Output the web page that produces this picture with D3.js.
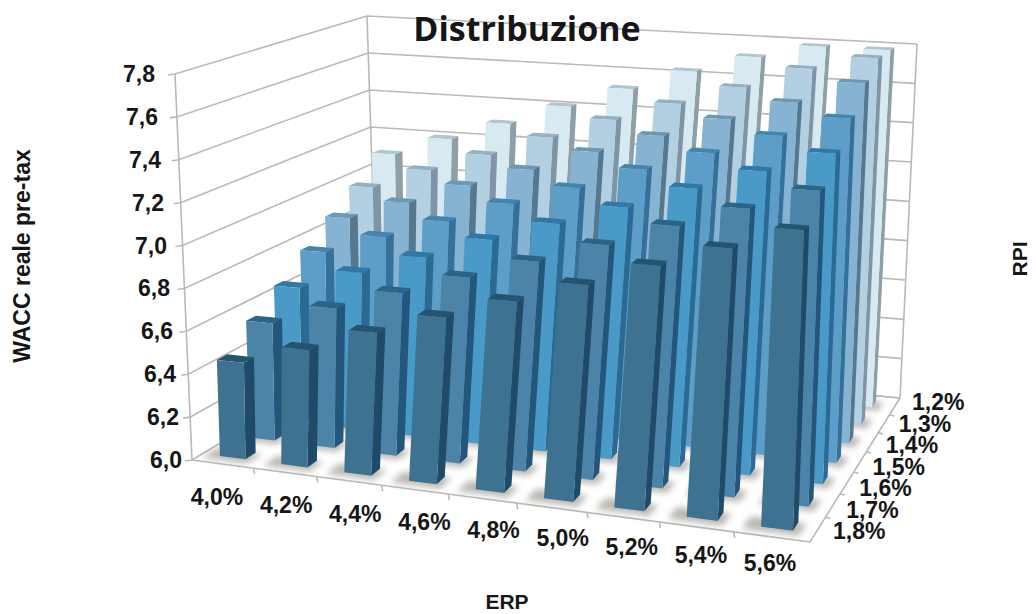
<!DOCTYPE html>
<html><head><meta charset="utf-8">
<script src="https://cdn.jsdelivr.net/npm/d3@7/dist/d3.min.js"></script>
<style>html,body{margin:0;background:#fff}svg{display:block}text{font-family:"Liberation Sans",Arial,sans-serif;font-weight:700;fill:#161616}</style>
</head><body><svg id="c" width="1036" height="614"></svg>
<script>
// ERP categories run along the front edge, RPI series run from front to back
const erp=["4,0%","4,2%","4,4%","4,6%","4,8%","5,0%","5,2%","5,4%","5,6%"];
const rpi=["1,8%","1,7%","1,6%","1,5%","1,4%","1,3%","1,2%"];
const ticks=[6,6.2,6.4,6.6,6.8,7,7.2,7.4,7.6,7.8];

// WACC reale pre-tax for each RPI level, one value per ERP category
const rpi18=[6.45,6.54,6.65,6.75,6.85,6.95,7.06,7.16,7.26];
const rpi17=[6.56,6.66,6.76,6.86,6.96,7.06,7.17,7.27,7.37];
const rpi16=[6.66,6.76,6.86,6.97,7.07,7.17,7.28,7.38,7.48];
const rpi15=[6.77,6.87,6.97,7.08,7.18,7.29,7.39,7.49,7.59];
const rpi14=[6.88,6.98,7.09,7.19,7.30,7.40,7.50,7.60,7.71];
const rpi13=[6.98,7.09,7.19,7.30,7.41,7.51,7.61,7.72,7.79];
const rpi12=[7.10,7.20,7.30,7.41,7.52,7.63,7.72,7.79,7.79];
const values=[rpi18,rpi17,rpi16,rpi15,rpi14,rpi13,rpi12];

const front=["#3d7290","#4c84a9","#4a9ac7","#5c9ec7","#86b3d2","#b3cfe2","#d7e9f1"];
const side=["#1f4a68","#24557b","#2a6a95","#34709a","#56788f","#7f95a5","#8f9fa8"];
const cap=["#245470","#2c6488","#3078a5","#4484ad","#6b98b5","#94b0c2","#b0c6d1"];

// Maps the unit square onto a quad given as near-left, near-right, far-right, far-left
function quad([[x0,y0],[x1,y1],[x2,y2],[x3,y3]]){
 const sx=x0-x1+x2-x3,sy=y0-y1+y2-y3,dx1=x1-x2,dx2=x3-x2,dy1=y1-y2,dy2=y3-y2,den=dx1*dy2-dx2*dy1;
 const g=(sx*dy2-dx2*sy)/den,h=(dx1*sy-sx*dy1)/den;
 const a=x1-x0+g*x1,b=x3-x0+h*x3,d=y1-y0+g*y1,e=y3-y0+h*y3;
 return(u,v)=>{const W=g*u+h*v+1;return[(a*u+b*v+x0)/W,(d*u+e*v+y0)/W];};
}
// Perspective box of the chart: floor and ceiling planes, heights blend between them.
// Spacing along the ERP direction tightens toward the left as rows recede.
const floorQ=quad([[192,460],[810,542],[900,398],[378,349]]);
const ceilQ=quad([[175,74],[823,106],[917,44],[367,16]]);
const proj=(u,v,w)=>{const s=u+(.05-.12*v)*u*(1-u),p=floorQ(s,v),q=ceilQ(s,v);return[p[0]+w*(q[0]-p[0]),p[1]+w*(q[1]-p[1])];};

const U=d3.scaleBand().domain(erp).range([0,1]).paddingInner(.58).paddingOuter(.29);
const V=d3.scaleBand().domain(rpi).range([0,1]).paddingInner(.66).paddingOuter(.33);
const Z=d3.scaleLinear().domain([6,7.8]).range([0,1]);
// Tick labels sit at even steps along the two floor edges
const labelX=d3.scalePoint().domain(erp).range([217,770]);
const labelXY=d3.scalePoint().domain(erp).range([497,563]);
const labelR=d3.scalePoint().domain(rpi).range([833,912]);
const labelRY=d3.scalePoint().domain(rpi).range([531,402]);

const svg=d3.select("#c");
const line=d3.line();
const poly=pts=>line(pts)+"Z";
svg.append("defs").append("filter").attr("id","soft").attr("x","-40%").attr("y","-40%").attr("width","180%").attr("height","180%").append("feGaussianBlur").attr("stdDeviation",3.4);

// Walls, floor edges and tick marks
const grid=svg.append("g").attr("fill","none").attr("stroke","#b9b9b9").attr("stroke-width",1.6);
ticks.forEach(t=>{const w=Z(t),p=proj(0,0,w);
 grid.append("path").attr("d",line([[p[0]-7,p[1]+1],p,proj(0,1,w),proj(1,1,w)]));});
[[0,0],[0,1],[1,1]].forEach(([u,v])=>grid.append("path").attr("d",line([proj(u,v,0),proj(u,v,1)])));
grid.append("path").attr("d",line([proj(0,1,0),proj(1,1,0)]));
grid.append("path").attr("d",line([proj(0,0,0),proj(1,0,0),proj(1,1,0)]));
erp.slice(1).forEach((c,i)=>{const p=proj((i+1)/erp.length,0,0);grid.append("path").attr("d",line([p,[p[0]+1,p[1]+6]]));});
rpi.slice(1).forEach((c,i)=>{const p=proj(1,(i+1)/rpi.length,0);grid.append("path").attr("d",line([p,[p[0]+5,p[1]+1]]));});

// Rows are painted from the back so nearer bars cover farther ones
const rows=d3.range(rpi.length).reverse();
const shadow=svg.append("g").attr("filter","url(#soft)");
rows.forEach(i=>erp.forEach(c=>{
 const u0=U(c),u1=u0+U.bandwidth(),v0=V(rpi[i]),v1=v0+V.bandwidth(),m=.012;
 shadow.append("path").attr("d",poly([proj(u0-m*2,v0-m*2,0),proj(u1+m,v0-m*2,0),proj(u1+m,v1,0),proj(u0-m*2,v1,0)])).attr("fill","#8f8a80").attr("opacity",.6);
}));
rows.forEach(i=>erp.forEach((c,j)=>{
 const u0=U(c),u1=u0+U.bandwidth(),v0=V(rpi[i]),v1=v0+V.bandwidth(),w=Z(values[i][j]);
 const G=svg.append("g");
 G.append("path").attr("d",poly([proj(u0,v1,w),proj(u1,v1,w),proj(u1,v0,w),proj(u0,v0,w)])).attr("fill",cap[i]);
 G.append("path").attr("d",poly([proj(u1,v0,0),proj(u1,v1,0),proj(u1,v1,w),proj(u1,v0,w)])).attr("fill",side[i]);
 G.append("path").attr("d",poly([proj(u0,v0,0),proj(u1,v0,0),proj(u1,v0,w),proj(u0,v0,w)])).attr("fill",front[i]);
}));

// Axis labels and titles
const fs=23;
ticks.forEach(t=>{const w=Z(t),p=proj(0,0,w);
 svg.append("text").attr("x",p[0]-10-w*10).attr("y",p[1]).attr("dy",".35em").attr("text-anchor","end").attr("font-size",fs).text(d3.format(".1f")(t).replace(".",","));});
erp.forEach(c=>svg.append("text").attr("x",labelX(c)).attr("y",labelXY(c)).attr("dy",".35em").attr("text-anchor","middle").attr("font-size",fs).text(c));
rpi.forEach(c=>svg.append("text").attr("x",labelR(c)).attr("y",labelRY(c)).attr("dy",".35em").attr("font-size",fs).text(c));
svg.append("text").attr("x",527).attr("y",41).attr("text-anchor","middle").attr("font-size",34).style("font-family","'Open Sans'").text("Distribuzione");
svg.append("text").attr("transform","translate(30,256) rotate(-90)").attr("text-anchor","middle").attr("font-size",23).text("WACC reale pre-tax");
svg.append("text").attr("transform","translate(1027,259) rotate(-90)").attr("text-anchor","middle").attr("font-size",21).text("RPI");
svg.append("text").attr("x",507).attr("y",609).attr("text-anchor","middle").attr("font-size",21).text("ERP");
</script></body></html>
